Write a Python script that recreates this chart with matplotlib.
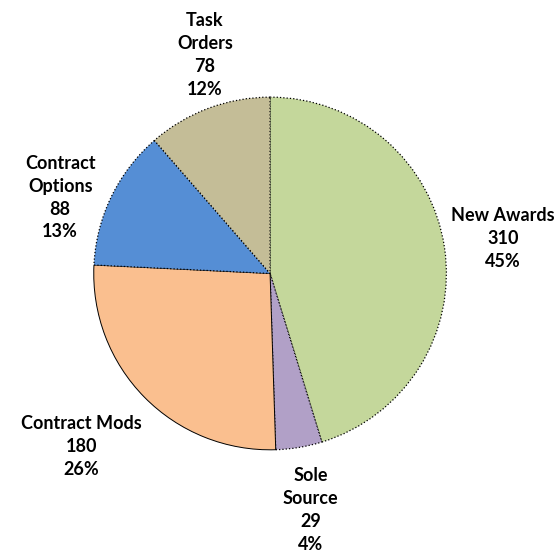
import matplotlib.pyplot as plt

# data
categories = ['New Awards', 'Sole Source', 'Contract Mods', 'Contract Options', 'Task Orders']
counts = [310, 29, 180, 88, 78]
pct_labels = ['45%', '4%', '26%', '13%', '12%']
label_names = ['New Awards', 'Sole\nSource', 'Contract Mods', 'Contract\nOptions', 'Task\nOrders']
colors = ['#C4D79B', '#B1A0C7', '#FABF8F', '#558ED5', '#C4BD97']

# label centres (in pie radius units)
label_pos = [(1.32, 0.20), (0.23, -1.34), (-1.07, -0.98), (-1.19, 0.43), (-0.37, 1.24)]

fig = plt.figure(figsize=(5.58, 5.57), dpi=100)
ax = fig.add_axes([0.484 - 0.316, 0.509 - 0.317, 0.632, 0.634])

wedges, _ = ax.pie(counts, colors=colors, startangle=90, counterclock=False,
                   wedgeprops=dict(edgecolor='black', linewidth=0.9, linestyle=':'))
wedges[2].set_linestyle('-')
wedges[2].set_linewidth(0.7)

for name, n, p, (x, y) in zip(label_names, counts, pct_labels, label_pos):
    ax.text(x, y, f'{name}\n{n}\n{p}', ha='center', va='center', multialignment='center',
            fontsize=13, fontweight='bold', family=['Lato', 'DejaVu Sans'], linespacing=1.42)

ax.set_xlim(-1, 1)
ax.set_ylim(-1, 1)
ax.set_aspect('equal')
ax.axis('off')

fig.savefig('out.png', dpi=100)
